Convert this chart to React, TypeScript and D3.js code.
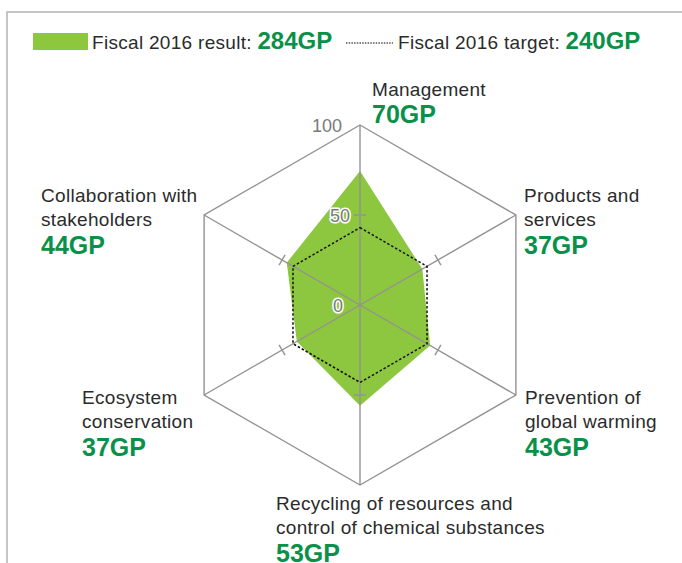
import React from 'react';
import * as d3 from 'd3';

// axes, clockwise from the top
const categories = [
  ['Management'],
  ['Products and', 'services'],
  ['Prevention of', 'global warming'],
  ['Recycling of resources and', 'control of chemical substances'],
  ['Ecosystem', 'conservation'],
  ['Collaboration with', 'stakeholders'],
];
const pointLabels = ['70GP', '37GP', '43GP', '53GP', '37GP', '44GP'];
// values on the 0-100 radial scale
const resultValues = [74.5, 40, 45, 56, 40.5, 47];
const targetValues = [43, 43, 43, 43, 43, 43];
const radialTicks = [0, 50, 100];
const legendResult = { label: 'Fiscal 2016 result: ', total: '284GP' };
const legendTarget = { label: 'Fiscal 2016 target: ', total: '240GP' };

const width = 682;
const height = 563;
const cx = 360;
const cy = 305;
const radius = 180;

const GREEN = '#8dc63f';
const VALUE_GREEN = '#0a9149';
const GRID = '#939393';
const TEXT = '#2b2b2b';
const FONT = '"Liberation Sans", Arial, Helvetica, sans-serif';

// label anchor (left x, first baseline) for each axis
const labelPos = [
  { x: 372, y: 96 },
  { x: 524, y: 202 },
  { x: 525, y: 404 },
  { x: 276, y: 510 },
  { x: 82, y: 404 },
  { x: 41, y: 202 },
];
// horizontal offset of each radial tick label (end of text)
const tickLabelDx = { 0: -17, 50: -10, 100: -18 };

const App = () => {
  const r = d3.scaleLinear().domain([0, 100]).range([0, radius]);
  const step = (2 * Math.PI) / categories.length;

  const radar = d3.lineRadial<number>()
    .angle((d, i) => i * step)
    .radius(d => r(d))
    .curve(d3.curveLinearClosed);

  const outline = radar(categories.map(() => 100));

  return (
    <svg width={width} height={height} style={{ position: 'absolute', left: 0, top: 0, fontFamily: FONT }}>
      {/* frame */}
      <path d={`M7,${height} V12 H${width}`} fill="none" stroke="#b3b3b3" strokeWidth={1.5} />

      {/* legend */}
      <rect x={33} y={33} width={55} height={17} fill={GREEN} />
      <text x={92} y={49} fontSize={19} letterSpacing={0.3} fill={TEXT}>
        {legendResult.label}
        <tspan fontWeight="bold" fontSize={24} letterSpacing={0} fill={VALUE_GREEN}>{legendResult.total}</tspan>
      </text>
      <line x1={346} x2={393} y1={43} y2={43} stroke="#000" strokeWidth={1.2} strokeDasharray="1.5,1.2" />
      <text x={398} y={49} fontSize={19} letterSpacing={0.3} fill={TEXT}>
        {legendTarget.label}
        <tspan fontWeight="bold" fontSize={24} letterSpacing={0} fill={VALUE_GREEN}>{legendTarget.total}</tspan>
      </text>

      <g transform={`translate(${cx},${cy})`}>
        {/* result area */}
        <path d={radar(resultValues) || ''} fill={GREEN} />

        {/* outer hexagon */}
        <path d={outline || ''} fill="none" stroke={GRID} strokeWidth={1.4} />

        {/* spokes + 50 tick marks */}
        {categories.map((c, i) => (
          <g key={i} transform={`rotate(${(i * 360) / categories.length})`}>
            <line x1={0} y1={0} x2={0} y2={-r(100)} stroke={GRID} strokeWidth={1.4} />
            <line x1={-6} x2={6} y1={-r(50)} y2={-r(50)} stroke={GRID} strokeWidth={1.4} />
          </g>
        ))}

        {/* target */}
        <path d={radar(targetValues) || ''} fill="none" stroke="#111" strokeWidth={1.5} strokeDasharray="2.5,2" />

        {/* radial tick labels */}
        {radialTicks.map(t => (
          <text key={t} x={tickLabelDx[t]} y={-r(t) + 7} textAnchor="end" fontSize={18}
            fill="#7a7a7a" stroke={t === 100 ? 'none' : '#fff'} strokeWidth={3} paintOrder="stroke"
            strokeLinejoin="round">
            {t}
          </text>
        ))}
      </g>

      {/* category labels */}
      {categories.map((lines, i) => {
        const p = labelPos[i];
        return (
          <text key={i} x={p.x} y={p.y} fill={TEXT} fontSize={19} letterSpacing={0.3}>
            {lines.map((l, j) => (
              <tspan key={j} x={p.x} dy={j === 0 ? 0 : 24}>{l}</tspan>
            ))}
            <tspan x={p.x} dy={lines.length === 1 ? 27 : 28} fontSize={25} fontWeight="bold" letterSpacing={0}
              fill={VALUE_GREEN}>
              {pointLabels[i]}
            </tspan>
          </text>
        );
      })}
    </svg>
  );
};

export default App;
